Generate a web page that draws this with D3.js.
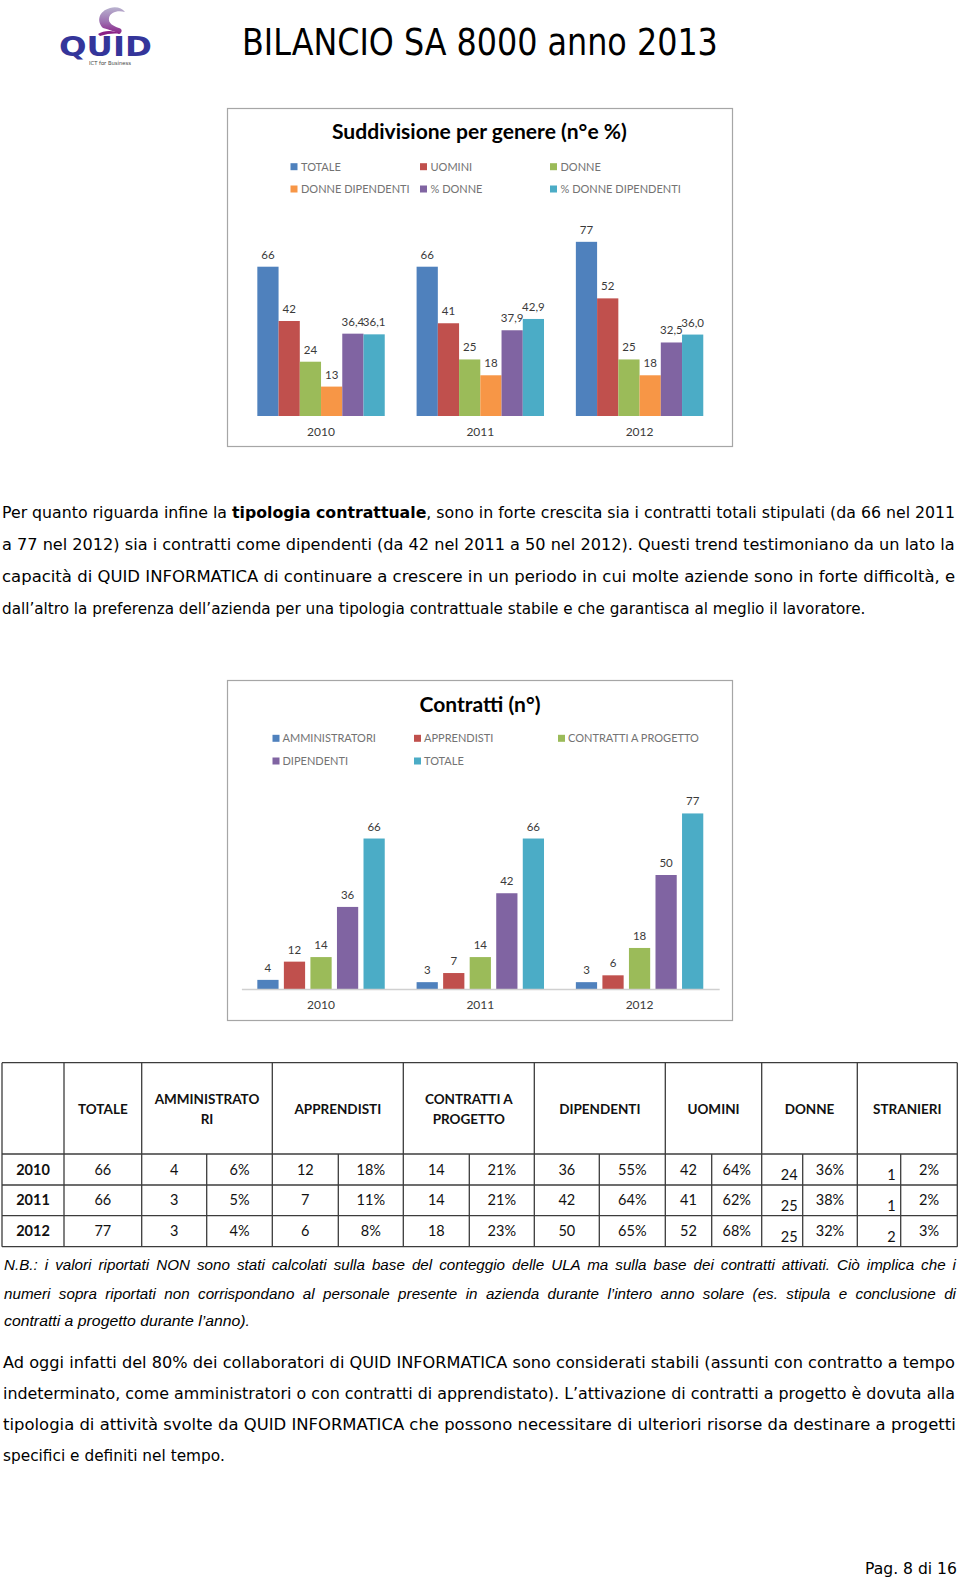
<!DOCTYPE html>
<html><head><meta charset="utf-8">
<script src="https://cdn.jsdelivr.net/npm/d3@7"></script>
<style>body{margin:0;background:#fff}svg{display:block}</style>
</head><body>
<svg id="page" width="960" height="1581"></svg>
<script>
// ---------- DATA ----------
const years = ["2010", "2011", "2012"];

// Chart 1: Suddivisione per genere (n° e %)
const genderSeries = ["TOTALE", "UOMINI", "DONNE", "DONNE DIPENDENTI", "% DONNE", "% DONNE DIPENDENTI"];
const genderTotale = [66, 66, 77];
const genderUomini = [42, 41, 52];
const genderDonne = [24, 25, 25];
const genderDonneDip = [13, 18, 18];
const genderPctDonne = [36.4, 37.9, 32.5];
const genderPctDonneDip = [36.1, 42.9, 36.0];
const genderIsPct = [false, false, false, false, true, true];

// Chart 2: Contratti (n°)
const contractSeries = ["AMMINISTRATORI", "APPRENDISTI", "CONTRATTI A PROGETTO", "DIPENDENTI", "TOTALE"];
const contrAmm = [4, 3, 3];
const contrApp = [12, 7, 6];
const contrProg = [14, 14, 18];
const contrDip = [36, 42, 50];
const contrTot = [66, 66, 77];

// Table
const tableHeaders = ["", "TOTALE", "AMMINISTRATO\nRI", "APPRENDISTI", "CONTRATTI A\nPROGETTO", "DIPENDENTI", "UOMINI", "DONNE", "STRANIERI"];
const tabTotale = [66, 66, 77];
const tabAmm = [4, 3, 3];
const tabAmmPct = ["6%", "5%", "4%"];
const tabApp = [12, 7, 6];
const tabAppPct = ["18%", "11%", "8%"];
const tabProg = [14, 14, 18];
const tabProgPct = ["21%", "21%", "23%"];
const tabDip = [36, 42, 50];
const tabDipPct = ["55%", "64%", "65%"];
const tabUom = [42, 41, 52];
const tabUomPct = ["64%", "62%", "68%"];
const tabDon = [24, 25, 25];
const tabDonPct = ["36%", "38%", "32%"];
const tabStr = [1, 1, 2];
const tabStrPct = ["2%", "2%", "3%"];

// ---------- STYLE ----------
const C = {blue:"#4F81BD", red:"#C0504D", green:"#9BBB59", orange:"#F79646", purple:"#8064A2", aqua:"#4BACC6"};
const chartFont = "Lato, 'Open Sans', sans-serif";
const bodyFont = "'DejaVu Sans', Verdana, sans-serif";

const svg = d3.select("#page");
const itLocale = d3.formatLocale({decimal: ",", thousands: ".", grouping: [3], currency: ["€", ""]});
const fmtPct = itLocale.format(".1f");
const fmtInt = itLocale.format("d");

// Fit a text element (placed at x,y) to an exact width by horizontal scaling
function fitWidth(t, x, y, target) {
  t.attr("x", 0).attr("y", 0);
  const w = t.node().getComputedTextLength();
  const s = target / w;
  t.attr("transform", `translate(${x},${y}) scale(${s},1)`);
}

// ---------- HEADER ----------
const logo = svg.append("g");
const defs = svg.append("defs");
const lg = defs.append("linearGradient").attr("id", "sw").attr("x1", 0).attr("y1", 0).attr("x2", 0).attr("y2", 1);
lg.append("stop").attr("offset", "0%").attr("stop-color", "#b9b3cf");
lg.append("stop").attr("offset", "55%").attr("stop-color", "#9c6fb0");
lg.append("stop").attr("offset", "100%").attr("stop-color", "#8a1f86");
logo.append("path")
  .attr("d", "M103,28 C96,21 99,11 110,8 C116,6 122,8 125,12 C118,10 110,12 109,18 C108,23 113,26 119,28 C123,29 122,33 119,34 C115,31 109,30 103,28 Z")
  .attr("fill", "url(#sw)");
logo.append("path")
  .attr("d", "M98,34 C104,30 114,30 121,34 C117,33 108,33 100,36 Z")
  .attr("fill", "#8a1f86");
fitWidth(logo.append("text")
  .attr("font-family", bodyFont).attr("font-weight", "bold").attr("font-size", 26)
  .attr("fill", "#34359a").text("QUID"), 59, 56, 93);
fitWidth(logo.append("text")
  .attr("font-family", bodyFont).attr("font-size", 5.5).attr("fill", "#444")
  .text("ICT for Business"), 89, 64.5, 42);

fitWidth(svg.append("text")
  .attr("font-family", bodyFont).attr("font-size", 38).attr("fill", "#000")
  .text("BILANCIO SA 8000 anno 2013"), 242, 55, 476);

// ---------- CHART FACTORY ----------
function barChart(cfg) {
  const g = svg.append("g");
  g.append("rect").attr("x", cfg.frame[0] + 0.5).attr("y", cfg.frame[1] + 0.5)
    .attr("width", cfg.frame[2] - cfg.frame[0]).attr("height", cfg.frame[3] - cfg.frame[1])
    .attr("fill", "#fff").attr("stroke", "#a6a6a6").attr("stroke-width", 1.2);

  fitWidth(g.append("text")
    .attr("font-family", chartFont).attr("font-weight", "bold").attr("font-size", 21)
    .attr("fill", "#000").text(cfg.title), cfg.titleX, cfg.titleY, cfg.titleW);

  // legend
  const leg = g.append("g");
  cfg.series.forEach((s, i) => {
    const col = i % 3, row = Math.floor(i / 3);
    const lx = cfg.legX[col], ly = cfg.legY[row];
    leg.append("rect").attr("x", lx).attr("y", ly - 3.5).attr("width", 7).attr("height", 7).attr("fill", cfg.colors[i]);
    leg.append("text").attr("x", lx + cfg.legGap).attr("y", ly + 4)
      .attr("font-family", chartFont).attr("font-size", 11).attr("fill", "#737373")
      .text(s);
  });

  const x0 = d3.scaleBand().domain(years).range(cfg.xRange).paddingInner(0.2).paddingOuter(0.1);
  const x1 = d3.scaleBand().domain(cfg.series).range([0, x0.bandwidth()]).paddingInner(cfg.innerPad).paddingOuter(0);
  const y = d3.scaleLinear().domain([0, 90]).range([cfg.base, cfg.base - 90 * cfg.k]);

  const data = [];
  years.forEach((yr, yi) => cfg.series.forEach((s, si) => data.push({yr, s, si, v: cfg.values[si][yi]})));

  g.append("g").selectAll("rect").data(data).join("rect")
    .attr("x", d => x0(d.yr) + x1(d.s))
    .attr("y", d => y(d.v))
    .attr("width", x1.bandwidth())
    .attr("height", d => y(0) - y(d.v))
    .attr("fill", d => cfg.colors[d.si]);

  g.append("g").selectAll("text").data(data).join("text")
    .attr("x", d => x0(d.yr) + x1(d.s) + x1.bandwidth() / 2)
    .attr("y", d => y(d.v) - 8)
    .attr("text-anchor", "middle")
    .attr("font-family", chartFont).attr("font-size", 11.5).attr("fill", "#3a3a3a")
    .text(d => cfg.isPct && cfg.isPct[d.si] ? fmtPct(d.v) : fmtInt(d.v));

  const ax = g.append("g").attr("transform", `translate(0,${cfg.base})`)
    .call(d3.axisBottom(x0).tickSize(0).tickPadding(11.8));
  ax.selectAll("text").attr("font-family", chartFont).attr("font-size", 12).attr("fill", "#3a3a3a");
  if (cfg.axisLine) ax.select(".domain").attr("stroke", "#d0d0d0").attr("stroke-width", 1.5);
  else ax.select(".domain").remove();
}

barChart({
  frame: [227, 108, 732, 446],
  title: "Suddivisione per genere (n°e %)", titleX: 332, titleY: 139, titleW: 295,
  series: genderSeries,
  colors: [C.blue, C.red, C.green, C.orange, C.purple, C.aqua],
  values: [genderTotale, genderUomini, genderDonne, genderDonneDip, genderPctDonne, genderPctDonneDip],
  isPct: genderIsPct,
  legX: [290.5, 420, 550], legY: [166.7, 189], legGap: 10.5,
  xRange: [241.4, 719.2], innerPad: 0, base: 416, k: 2.262, axisLine: false
});

barChart({
  frame: [227, 680, 732, 1020],
  title: "Contratti (n°)", titleX: 419.5, titleY: 712, titleW: 121,
  series: contractSeries,
  colors: [C.blue, C.red, C.green, C.purple, C.aqua],
  values: [contrAmm, contrApp, contrProg, contrDip, contrTot],
  legX: [272.5, 414, 558], legY: [738.3, 761], legGap: 10,
  xRange: [241.4, 719.2], innerPad: 0.2, base: 989, k: 2.28, axisLine: true
});

// ---------- TEXT HELPER ----------
// justified line: word-spacing if natural width is short, horizontal scaling if too long
function textLine(x, y, parts, target, opts) {
  const t = svg.append("text")
    .attr("font-family", opts.font).attr("font-size", opts.size).attr("fill", "#000")
    .attr("font-style", opts.italic ? "italic" : null);
  parts.forEach(p => {
    const ts = t.append("tspan").text(p.t);
    if (p.b) ts.attr("font-weight", "bold");
  });
  const full = parts.map(p => p.t).join("");
  t.attr("x", x).attr("y", y);
  const w = t.node().getComputedTextLength();
  const spaces = (full.match(/ /g) || []).length;
  if (opts.justify && w < target && spaces > 0) {
    t.style("word-spacing", ((target - w) / spaces) + "px");
  } else {
    fitWidth(t, x, y, target);
  }
}

// Paragraph 1
const p1 = [
  {parts: [{t: "Per quanto riguarda infine la "}, {t: "tipologia contrattuale", b: true}, {t: ", sono in forte crescita sia i contratti totali stipulati (da 66 nel 2011"}], w: 954, j: true},
  {parts: [{t: "a 77 nel 2012) sia i contratti come dipendenti (da 42 nel 2011 a 50 nel 2012). Questi trend testimoniano da un lato la"}], w: 954, j: true},
  {parts: [{t: "capacità di QUID INFORMATICA di continuare a crescere in un periodo in cui molte aziende sono in forte difficoltà, e"}], w: 954, j: true},
  {parts: [{t: "dall’altro la preferenza dell’azienda per una tipologia contrattuale stabile e che garantisca al meglio il lavoratore."}], w: 864, j: false}
];
const p1Y = [517.5, 549.5, 581.5, 614];
p1.forEach((l, i) => textLine(2, p1Y[i], l.parts, l.w, {font: bodyFont, size: 16.5, justify: l.j}));

// ---------- TABLE ----------
const colX = [2, 64, 141.7, 206.7, 272.3, 338.3, 403.3, 469.3, 534.3, 599.3, 665.3, 711.7, 761.7, 802.7, 857.3, 900.7, 957.3];
const headSpan = [[0, 1], [1, 2], [2, 4], [4, 6], [6, 8], [8, 10], [10, 12], [12, 14], [14, 16]];
const rowY = [1062.7, 1154, 1185, 1215.7, 1246.7];
const tg = svg.append("g");
const lineStyle = s => s.attr("stroke", "#3c3c3c").attr("stroke-width", 1.3);
rowY.forEach(yv => lineStyle(tg.append("line").attr("x1", colX[0]).attr("x2", colX[16]).attr("y1", yv).attr("y2", yv)));
headSpan.forEach(([a, b]) => {
  lineStyle(tg.append("line").attr("x1", colX[a]).attr("x2", colX[a]).attr("y1", rowY[0]).attr("y2", rowY[4]));
});
lineStyle(tg.append("line").attr("x1", colX[16]).attr("x2", colX[16]).attr("y1", rowY[0]).attr("y2", rowY[4]));
[3, 5, 7, 9, 11, 13, 15].forEach(ci => lineStyle(tg.append("line").attr("x1", colX[ci]).attr("x2", colX[ci]).attr("y1", rowY[1]).attr("y2", rowY[4])));

tableHeaders.forEach((h, i) => {
  if (!h) return;
  const [a, b] = headSpan[i];
  const cx = (colX[a] + colX[b]) / 2;
  const lines = h.split("\n");
  const cy = (rowY[0] + rowY[1]) / 2 + 1;
  lines.forEach((ln, li) => {
    tg.append("text").attr("x", cx).attr("y", cy + 4.5 + (li - (lines.length - 1) / 2) * 20)
      .attr("text-anchor", "middle").attr("font-family", chartFont).attr("font-weight", "bold")
      .attr("font-size", 13.5).attr("fill", "#111").text(ln);
  });
});

const tabCols = [tabTotale, tabAmm, tabAmmPct, tabApp, tabAppPct, tabProg, tabProgPct, tabDip, tabDipPct, tabUom, tabUomPct, tabDon, tabDonPct, tabStr, tabStrPct];
const lowered = new Set([11, 13]);
years.forEach((yr, ri) => {
  const cy = (rowY[ri + 1] + rowY[ri + 2]) / 2;
  tg.append("text").attr("x", (colX[0] + colX[1]) / 2).attr("y", cy + 5)
    .attr("text-anchor", "middle").attr("font-family", chartFont).attr("font-weight", "bold")
    .attr("font-size", 14.5).attr("fill", "#111").text(yr);
  tabCols.forEach((col, ci) => {
    const a = colX[ci + 1], b = colX[ci + 2];
    const t = tg.append("text").attr("font-family", chartFont).attr("font-size", 14.5).attr("fill", "#111").text(col[ri]);
    if (lowered.has(ci)) t.attr("x", b - 5).attr("y", cy + 10.5).attr("text-anchor", "end");
    else t.attr("x", (a + b) / 2).attr("y", cy + 5).attr("text-anchor", "middle");
  });
});

// N.B. paragraph
const nb = [
  {t: "N.B.: i valori riportati NON sono stati calcolati sulla base del conteggio delle ULA ma sulla base dei contratti attivati. Ciò implica che i", w: 952, j: true},
  {t: "numeri sopra riportati non corrispondano al personale presente in azienda durante l’intero anno solare (es. stipula e conclusione di", w: 952, j: true},
  {t: "contratti a progetto durante l’anno).", w: 246, j: false}
];
const nbY = [1270, 1298.5, 1326];
nb.forEach((l, i) => textLine(4, nbY[i], [{t: l.t}], l.w, {font: "'Liberation Sans', Arial, sans-serif", size: 15.2, italic: true, justify: l.j}));

// Paragraph 3
const p3 = [
  {t: "Ad oggi infatti del 80% dei collaboratori di QUID INFORMATICA sono considerati stabili (assunti con contratto a tempo", w: 953, j: true},
  {t: "indeterminato, come amministratori o con contratti di apprendistato). L’attivazione di contratti a progetto è dovuta alla", w: 953, j: true},
  {t: "tipologia di attività svolte da QUID INFORMATICA che possono necessitare di ulteriori risorse da destinare a progetti", w: 953, j: true},
  {t: "specifici e definiti nel tempo.", w: 222, j: false}
];
const p3Y = [1367.5, 1398.5, 1429.5, 1460.5];
p3.forEach((l, i) => textLine(3, p3Y[i], [{t: l.t}], l.w, {font: bodyFont, size: 16.5, justify: l.j}));

// footer
fitWidth(svg.append("text")
  .attr("font-family", bodyFont).attr("font-size", 16).attr("fill", "#000")
  .text("Pag. 8 di 16"), 865, 1574, 92);
</script>
</body></html>
